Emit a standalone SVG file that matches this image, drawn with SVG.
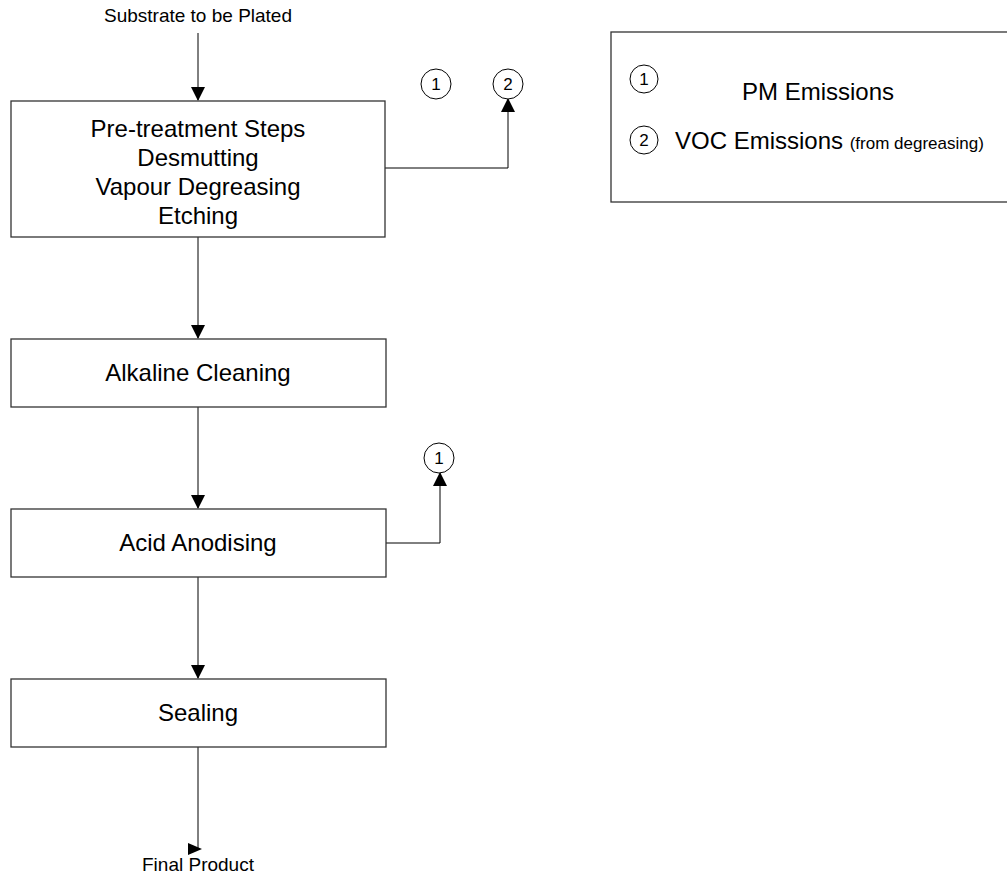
<svg xmlns="http://www.w3.org/2000/svg" width="1007" height="876" viewBox="0 0 1007 876">
<defs>
<style>
text{font-family:"Liberation Sans",Arial,sans-serif;fill:#000}
.box{fill:#fff;stroke:#333;stroke-width:1.3}
.lbl{font-size:24px;text-anchor:middle}
.sm{font-size:19px;text-anchor:middle}
.num{font-size:17px;text-anchor:middle}
.circ{fill:#fff;stroke:#000;stroke-width:1}
.conn{fill:none;stroke:#000;stroke-width:1}
</style>
<marker id="arr" markerWidth="14" markerHeight="18" refX="13" refY="7" orient="auto" markerUnits="userSpaceOnUse" viewBox="0 0 14 14"><path d="M0,0 L14,7 L0,14 Z" fill="#000"/></marker>
</defs>
<rect width="1007" height="876" fill="#fff"/>
<g id="connectors">
<path class="conn" d="M198,33 V100" marker-end="url(#arr)"/>
<path class="conn" d="M198,237 V338" marker-end="url(#arr)"/>
<path class="conn" d="M198,407 V508" marker-end="url(#arr)"/>
<path class="conn" d="M198,577 V678" marker-end="url(#arr)"/>
<path class="conn" d="M198,747 V849"/>
<polygon points="188,843 202,849 188,855" fill="#000"/>
<path class="conn" d="M385,168 H508 V99" marker-end="url(#arr)"/>
<path class="conn" d="M386,543 H440 V473" marker-end="url(#arr)"/>
</g>
<g id="input"><text class="sm" x="198" y="22">Substrate to be Plated</text></g>
<g id="pretreatment">
<rect class="box" x="11" y="101" width="374" height="136"/>
<text class="lbl" x="198" y="137">Pre-treatment Steps</text>
<text class="lbl" x="198" y="166">Desmutting</text>
<text class="lbl" x="198" y="195">Vapour Degreasing</text>
<text class="lbl" x="198" y="224">Etching</text>
</g>
<g id="alkaline">
<rect class="box" x="11" y="339" width="375" height="68"/>
<text class="lbl" x="198" y="381">Alkaline Cleaning</text>
</g>
<g id="anodising">
<rect class="box" x="11" y="509" width="375" height="68"/>
<text class="lbl" x="198" y="551">Acid Anodising</text>
</g>
<g id="sealing">
<rect class="box" x="11" y="679" width="375" height="68"/>
<text class="lbl" x="198" y="721">Sealing</text>
</g>
<g id="output"><text class="sm" x="198" y="871">Final Product</text></g>
<g id="e1a"><circle class="circ" cx="436" cy="84" r="15"/><text class="num" x="436" y="90">1</text></g>
<g id="e2a"><circle class="circ" cx="508" cy="84" r="15"/><text class="num" x="508" y="90">2</text></g>
<g id="e1b"><circle class="circ" cx="439" cy="458" r="15"/><text class="num" x="439" y="464">1</text></g>
<g id="legend">
<rect class="box" x="611" y="32" width="400" height="170"/>
<circle class="circ" cx="644" cy="79" r="14"/><text class="num" x="644" y="85">1</text>
<text x="742" y="100" style="font-size:24px">PM Emissions</text>
<circle class="circ" cx="644" cy="140" r="14"/><text class="num" x="644" y="146">2</text>
<text x="675" y="149" style="font-size:24px">VOC Emissions <tspan style="font-size:17px">(from degreasing)</tspan></text>
</g>
</svg>
